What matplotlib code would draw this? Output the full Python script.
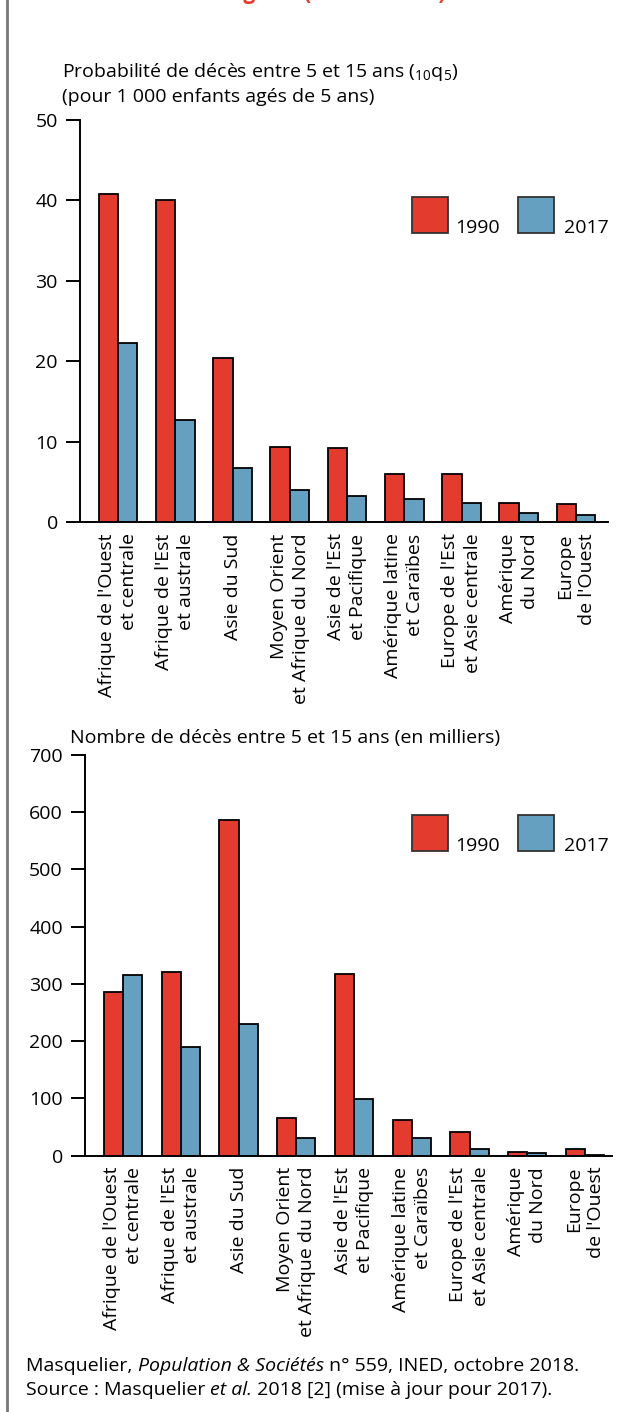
import matplotlib
matplotlib.use("Agg")
import matplotlib.pyplot as plt
from matplotlib.patches import Rectangle
from matplotlib.lines import Line2D

plt.rcParams['font.family'] = ['Open Sans', 'DejaVu Sans']
plt.rcParams['mathtext.default'] = 'regular'

W, H = 622, 1412
RED = '#e33b2e'
BLUE = '#65a0c1'
FS = 14

regions = ["Afrique de l'Ouest\net centrale", "Afrique de l'Est\net australe", "Asie du Sud",
           "Moyen Orient\net Afrique du Nord", "Asie de l'Est\net Pacifique",
           "Amérique latine\net Caraïbes", "Europe de l'Est\net Asie centrale",
           "Amérique\ndu Nord", "Europe\nde l'Ouest"]
years = ["1990", "2017"]

# probabilite de deces entre 5 et 15 ans, pour 1000
prob_1990 = [40.8, 40.0, 20.4, 9.4, 9.2, 6.0, 6.0, 2.4, 2.3]
prob_2017 = [22.3, 12.7, 6.8, 4.0, 3.3, 2.9, 2.4, 1.2, 0.9]

# nombre de deces, en milliers
deaths_1990 = [286, 321, 586, 66, 318, 63, 41, 7, 12]
deaths_2017 = [315, 190, 230, 31, 99, 31, 12, 5, 2]
prob_ticks = [0, 10, 20, 30, 40, 50]
deaths_ticks = [0, 100, 200, 300, 400, 500, 600, 700]


def fx(x):
    return x / W


def fy(y):
    return 1 - y / H


fig = plt.figure(figsize=(W / 100, H / 100), dpi=100, facecolor='white')

# left frame line
fig.add_artist(Line2D([fx(6.5), fx(6.5)], [0, 1], color='#777777', lw=2))

# title of the page, only its lowest pixels show
fig.text(fx(446), fy(-1), "régions (1990 et 2017)", color=RED, fontsize=15,
         fontweight='bold', ha='right', va='baseline')


def draw_chart(ax, v1, v2, ticks, xlim, width):
    x = list(range(len(regions)))
    ax.bar([i - width / 2 for i in x], v1, width, color=RED, edgecolor='black', lw=1.3)
    ax.bar([i + width / 2 for i in x], v2, width, color=BLUE, edgecolor='black', lw=1.3)
    ax.set_xlim(*xlim)
    ax.set_ylim(ticks[0], ticks[-1])
    ax.set_yticks(ticks)
    ax.set_xticks(x)
    ax.set_xticklabels(regions, rotation=90, ha='center', va='top',
                       multialignment='right', fontsize=FS, linespacing=1.3)
    ax.tick_params(axis='x', length=0, pad=8)
    ax.tick_params(axis='y', length=10, width=1.4, pad=6, labelsize=FS)
    for s in ['top', 'right']:
        ax.spines[s].set_visible(False)
    for s in ['left', 'bottom']:
        ax.spines[s].set_linewidth(1.4)
    ax.set_facecolor('none')


def legend(ytop):
    fig.add_artist(Rectangle((fx(412), fy(ytop + 36)), 36 / W, 36 / H, transform=fig.transFigure,
                             facecolor=RED, edgecolor='#333333', lw=1.3))
    fig.add_artist(Rectangle((fx(518), fy(ytop + 36)), 36 / W, 36 / H, transform=fig.transFigure,
                             facecolor=BLUE, edgecolor='#333333', lw=1.3))
    fig.text(fx(455), fy(ytop + 36), years[0], fontsize=FS, ha='left', va='baseline')
    fig.text(fx(564), fy(ytop + 36), years[1], fontsize=FS, ha='left', va='baseline')


ax1 = fig.add_axes([fx(80), fy(522.3), (608 - 80) / W, (522.3 - 120) / H])
draw_chart(ax1, prob_1990, prob_2017, prob_ticks, (-0.664, 8.559), 0.34)
legend(197)
fig.text(fx(62), fy(72), "Probabilité de décès entre 5 et 15 ans ($_{10}$q$_5$)",
         fontsize=FS, ha='left', va='center')
fig.text(fx(62), fy(97), "(pour 1 000 enfants agés de 5 ans)", fontsize=FS, ha='left', va='center')

ax2 = fig.add_axes([fx(85), fy(1155.7), (612 - 85) / W, (1155.7 - 754.7) / H])
draw_chart(ax2, deaths_1990, deaths_2017, deaths_ticks, (-0.658, 8.467), 0.33)
legend(815)
fig.text(fx(70), fy(738), "Nombre de décès entre 5 et 15 ans (en milliers)",
         fontsize=FS, ha='left', va='center')

# footer with italic parts
renderer = fig.canvas.get_renderer()


def rich_line(y, parts):
    x = fx(26)
    for txt, style in parts:
        t = fig.text(x, fy(y), txt, fontsize=FS, style=style, ha='left', va='center')
        bb = t.get_window_extent(renderer=renderer)
        x += bb.width / W


rich_line(1366, [("Masquelier, ", 'normal'), ("Population & Sociétés", 'italic'),
                 (" n° 559, INED, octobre 2018.", 'normal')])
rich_line(1390, [("Source : Masquelier ", 'normal'), ("et al.", 'italic'),
                 (" 2018 [2] (mise à jour pour 2017).", 'normal')])

fig.savefig("out.png", dpi=100, facecolor='white')
